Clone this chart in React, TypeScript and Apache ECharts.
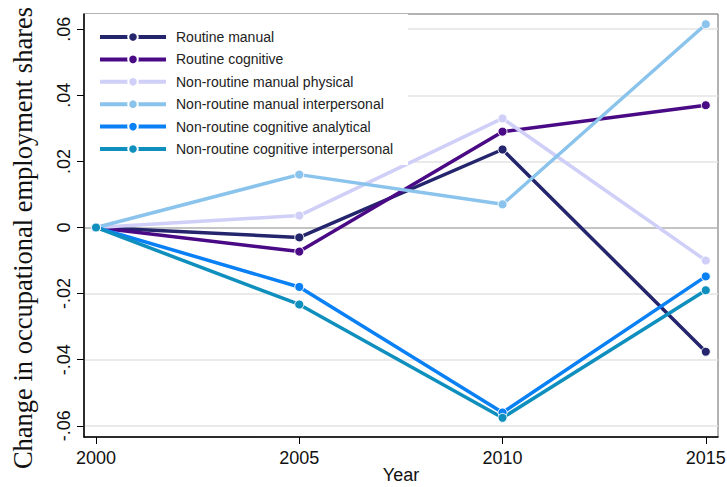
import React, { useEffect, useRef } from "react";
import * as echarts from "echarts";

const years = [2000, 2005, 2010, 2015];
const yTicks = [-0.06, -0.04, -0.02, 0, 0.02, 0.04, 0.06];
const xTicks = [2000, 2005, 2010, 2015];

const seriesNames = [
  "Routine manual",
  "Routine cognitive",
  "Non-routine manual physical",
  "Non-routine manual interpersonal",
  "Non-routine cognitive analytical",
  "Non-routine cognitive interpersonal",
];
const routineManual = [0, -0.003, 0.0236, -0.0376];
const routineCognitive = [0, -0.0073, 0.029, 0.037];
const nrManualPhysical = [0, 0.0036, 0.033, -0.0100];
const nrManualInterpersonal = [0, 0.016, 0.007, 0.0615];
const nrCognitiveAnalytical = [0, -0.018, -0.056, -0.0148];
const nrCognitiveInterpersonal = [0, -0.0233, -0.0576, -0.019];
const seriesValues = [
  routineManual,
  routineCognitive,
  nrManualPhysical,
  nrManualInterpersonal,
  nrCognitiveAnalytical,
  nrCognitiveInterpersonal,
];
const colors = ["#24256d", "#4a0a85", "#cfcff7", "#8ac3ec", "#0a80f5", "#0f8fbd"];

const fmtY = (v: number) => {
  if (Math.abs(v) < 1e-9) return "0";
  const s = Math.abs(v).toFixed(2).replace(/^0/, "");
  return (v < 0 ? "-" : "") + s;
};

export default function App() {
  const ref = useRef<HTMLDivElement>(null);
  useEffect(() => {
    if (!ref.current) return;
    const chart = echarts.init(ref.current, undefined, { renderer: "svg" });
    const font = "'Liberation Sans', Arial, sans-serif";
    chart.setOption({
      animation: false,
      backgroundColor: "#fff",
      grid: {
        left: 84,
        right: 9,
        top: 14,
        bottom: 50,
        containLabel: false,
        outerBoundsMode: "none",
        show: true,
        borderColor: "#666",
        borderWidth: 1,
        backgroundColor: "transparent",
      },
      legend: {
        orient: "vertical",
        left: 85,
        top: 14,
        padding: [16, 15, 9, 13],
        backgroundColor: "#fff",
        itemWidth: 66,
        itemHeight: 12,
        itemGap: 8.4,
        lineStyle: { width: 4 },
        textStyle: { fontFamily: font, fontSize: 14, color: "#222", padding: [0, 0, 0, 5] },
        data: seriesNames,
      },
      xAxis: {
        type: "value",
        min: 1999.705,
        max: 2015.3,
        axisLine: { show: true, onZero: false, lineStyle: { color: "#000", width: 1.5 } },
        axisTick: { show: true, length: 7, lineStyle: { color: "#000" }, customValues: xTicks },
        axisLabel: {
          fontFamily: font,
          fontSize: 18,
          color: "#111",
          margin: 12,
          customValues: xTicks,
          formatter: (v: number) => String(Math.round(v)),
        },
        splitLine: { show: false },
      },
      yAxis: {
        type: "value",
        min: -0.0634,
        max: 0.0646,
        axisLine: { show: true, onZero: false, lineStyle: { color: "#000", width: 1.5 } },
        axisTick: { show: true, length: 7, lineStyle: { color: "#000" }, customValues: yTicks },
        axisLabel: {
          fontFamily: font,
          fontSize: 18,
          color: "#111",
          rotate: 90,
          margin: 11,
          customValues: yTicks,
          formatter: (v: number) => fmtY(v),
        },
        splitLine: {
          show: true,
          lineStyle: {
            color: ["#e3e3e3", "#e3e3e3", "#e3e3e3", "#b0b0b0", "#e3e3e3", "#e3e3e3", "#e3e3e3"],
            width: 1.5,
          },
        },
      },
      graphic: [
        {
          type: "text",
          x: 23,
          y: 238,
          rotation: Math.PI / 2,
          style: {
            text: "Change in occupational employment shares",
            font: "26.5px 'Liberation Serif', 'Times New Roman', serif",
            fill: "#111",
            textAlign: "center",
            textVerticalAlign: "middle",
          },
        },
        {
          type: "text",
          x: 401,
          y: 475,
          style: {
            text: "Year",
            font: "18px 'Liberation Sans', Arial, sans-serif",
            fill: "#111",
            textAlign: "center",
            textVerticalAlign: "middle",
          },
        },
      ],
      series: seriesNames.map((name, i) => ({
        name,
        type: "line",
        data: years.map((y, j) => [y, seriesValues[i][j]]),
        symbol: "circle",
        symbolSize: 9,
        clip: false,
        lineStyle: { width: 3.5, color: colors[i] },
        itemStyle: { color: colors[i], borderColor: "#fff", borderWidth: 1 },
      })),
    });
    return () => chart.dispose();
  }, []);
  return (
    <div
      ref={ref}
      style={{ position: "fixed", left: 0, top: 0, width: 727, height: 487 }}
    />
  );
}
